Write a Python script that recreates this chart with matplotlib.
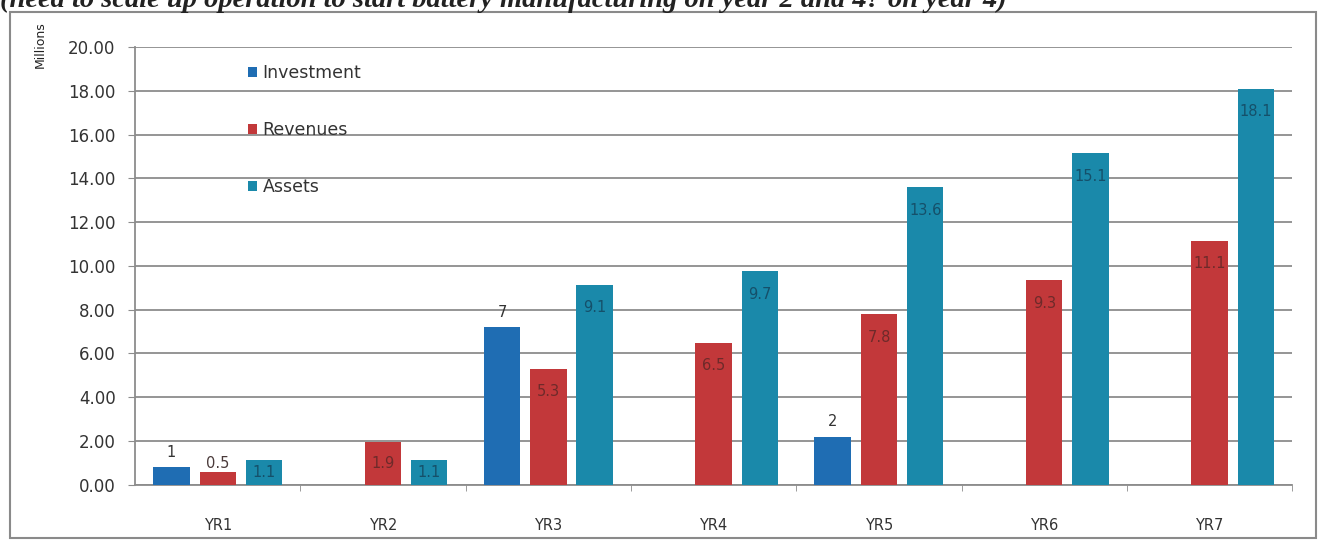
import matplotlib.pyplot as plt
from matplotlib.patches import Rectangle
import numpy as np

years = ['YR1', 'YR2', 'YR3', 'YR4', 'YR5', 'YR6', 'YR7']
investment = [0.8, 0, 7.2, 0, 2.2, 0, 0]
revenues = [0.6, 1.95, 5.3, 6.5, 7.8, 9.35, 11.15]
assets = [1.15, 1.15, 9.15, 9.75, 13.6, 15.15, 18.1]
inv_labels = ['1', '', '7', '', '2', '', '']
rev_labels = ['0.5', '1.9', '5.3', '6.5', '7.8', '9.3', '11.1']
ast_labels = ['1.1', '1.1', '9.1', '9.7', '13.6', '15.1', '18.1']

c_inv = '#1f6db3'
c_rev = '#c2383a'
c_ast = '#1a89aa'
grid_c = '#8c8c8c'

fig = plt.figure(figsize=(13.24, 5.46), dpi=100)
ax = fig.add_axes([0.102, 0.112, 0.874, 0.802])

x = np.arange(len(years))
w = 0.22
off = 0.28
ax.bar(x - off, investment, w, color=c_inv, label='Investment', zorder=3)
ax.bar(x, revenues, w, color=c_rev, label='Revenues', zorder=3)
ax.bar(x + off, assets, w, color=c_ast, label='Assets', zorder=3)

# labels: investment above the bars, others inside the top end
for xi, v, s in zip(x - off, investment, inv_labels):
    if s:
        ax.text(xi, v + 0.35, s, ha='center', va='bottom', fontsize=10.5, color='#333333', zorder=4)
for xs, vals, labs, tc in [(x, revenues, rev_labels, '#6e2a2a'), (x + off, assets, ast_labels, '#15506a')]:
    for xi, v, s in zip(xs, vals, labs):
        if v < 1:
            ax.text(xi, v + 0.05, s, ha='center', va='bottom', fontsize=10.5, color='#4a3a3a', zorder=4)
        else:
            y = max(v - 1.05, v / 2)
            ax.text(xi, y, s, ha='center', va='center', fontsize=10.5, color=tc, zorder=4)

ax.set_xlim(-0.5, len(years) - 0.5)
ax.set_ylim(0, 20)
ax.set_yticks(np.arange(0, 21, 2))
ax.set_yticklabels([f'{t:.2f}' for t in np.arange(0, 21, 2)], fontsize=12, color='#333333')
ax.set_xticks(x)
ax.set_xticklabels(years, fontsize=10.5, color='#333333')
ax.set_xticks(np.arange(0.5, len(years), 1), minor=True)
ax.tick_params(axis='x', which='major', length=0, pad=24)
ax.tick_params(axis='x', which='minor', length=4, color=grid_c, direction='out')
ax.tick_params(axis='y', length=5, color=grid_c, pad=9)
ax.yaxis.grid(True, color=grid_c, linewidth=1.3, zorder=0)
ax.set_axisbelow(True)
for side in ['top', 'right']:
    ax.spines[side].set_visible(False)
for side in ['left', 'bottom']:
    ax.spines[side].set_color(grid_c)
    ax.spines[side].set_linewidth(1.3)

leg = ax.legend(loc='upper left', bbox_to_anchor=(0.084, 0.997), frameon=False,
                handlelength=0.55, handleheight=0.55, handletextpad=0.3,
                labelspacing=2.25, fontsize=12.5)
for t in leg.get_texts():
    t.set_color('#333333')

fig.text(40 / 1324, 1 - 45 / 546, 'Millions', rotation=90, ha='center', va='center',
         fontsize=9, color='#222222')

# outer frame
fig.patches.append(Rectangle((10 / 1324, 8 / 546), 1306 / 1324, 526 / 546,
                             transform=fig.transFigure, fill=False,
                             edgecolor='#8a8a8a', linewidth=1.5))

# caption line, cut off at the top of the picture as in the source
fig.text(0.0, 1 - 7 / 546,
         '(need to scale up operation to start battery manufacturing on year 2 and 4? on year 4)',
         family='Liberation Serif', style='italic', fontweight='bold', fontsize=20.5,
         color='#222222', ha='left', va='baseline')

fig.savefig('out.png', dpi=100)
